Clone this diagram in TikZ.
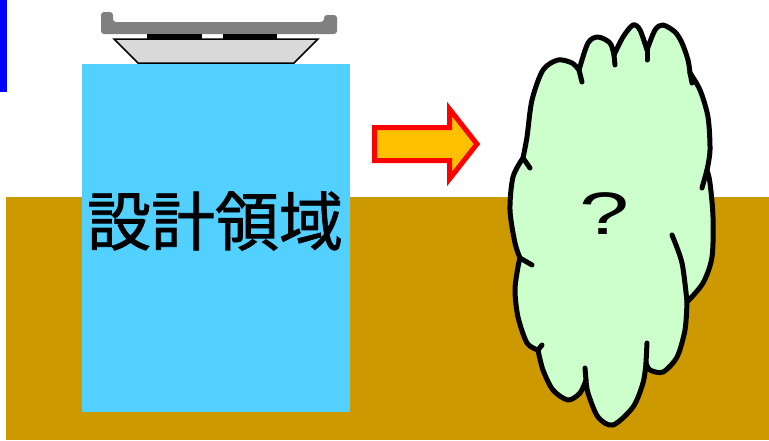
\documentclass[tikz,border=0pt]{standalone}
\usepackage{fontspec}
\setmainfont{Liberation Sans}
\newfontfamily\jpfont[FakeBold=1.2]{Noto Sans CJK JP}
\definecolor{domaincyan}{RGB}{82, 208, 255}
\definecolor{groundgold}{RGB}{204, 153, 0}
\definecolor{cloudgreen}{RGB}{204, 255, 204}
\definecolor{arroworange}{RGB}{255, 192, 0}
\definecolor{plategray}{RGB}{128, 128, 128}
\definecolor{padgray}{RGB}{217, 217, 217}
\usepackage{tikz}
\usetikzlibrary{arrows.meta,positioning,calc}

\begin{document}
\begin{tikzpicture}[x=1pt, y=-1pt,
    cloudline/.style={line width=5pt, line cap=round, line join=round}]
          \useasboundingbox (0,0) rectangle (769,440);
          \fill[white] (0,0) rectangle (769,440);

          % Ground and marker bar
          \fill[groundgold] (6,197) rectangle (769,440);
          \fill[blue] (0,0) rectangle (7,92);

          % Design domain
          \fill[domaincyan] (82,64) rectangle (350,412);
          \node (domain) at (215,221) {\jpfont\fontsize{64}{64}\selectfont 設計領域};

          % Loading plate on top
          \fill[plategray, rounded corners=3pt] (101,12) -- (113,12) -- (113,22) -- (324,22)
            -- (324,15) -- (337,15) -- (337,34) -- (101,34) -- cycle;
          \fill[black] (147,34) rectangle (202,39);
          \fill[black] (223,34) rectangle (277,39);
          \draw[fill=padgray, line width=1.5pt] (114,39) -- (318,39) -- (294,63) -- (138,63) -- cycle;

          % Block arrow
          \draw[fill=arroworange, draw=red, line width=5pt, miter limit=10]
            (374.5,127.5) -- (449.5,127.5) -- (449.5,109) -- (477,144) -- (449.5,179)
            -- (449.5,160.5) -- (374.5,160.5) -- cycle;

          % Cloud
          \draw[cloudline, fill=cloudgreen]
            plot[smooth] coordinates {(523,158) (527,137) (532,100) (543,70) (558,60) (572,63) (579,70)}
            -- plot[smooth] coordinates {(579,70) (588,43) (598,37) (610,43) (614,55)}
            -- plot[smooth] coordinates {(614,55) (623,37) (633,25) (640,30) (647,50)}
            -- plot[smooth] coordinates {(647,50) (655,30) (663,25) (675,32) (682,43) (688,60) (690,73)}
            -- plot[smooth] coordinates {(690,73) (700,90) (708,117) (710,150) (707,170)}
            -- plot[smooth] coordinates {(707,170) (710,183) (713,217) (712,257) (703,283) (687,302)}
            -- plot[smooth] coordinates {(687,302) (685,330) (677,357) (663,372) (650,370) (646,363)}
            -- plot[smooth] coordinates {(646,363) (643,383) (633,407) (613,425) (598,417) (588,393) (586,380)}
            -- plot[smooth] coordinates {(586,380) (580,393) (568,400) (553,390) (543,370) (538,350)}
            -- plot[smooth] coordinates {(538,350) (527,343) (518,317) (515,290) (518,267) (520,258)}
            -- plot[smooth] coordinates {(520,258) (515,243) (510,210) (513,177) (523,158)}
            -- cycle;
          % inner ends of the lobes
          \draw[cloudline] (579,70) -- (582,82);
          \draw[cloudline] (614,55) -- (615,65);
          \draw[cloudline] (647,50) -- (647,60);
          \draw[cloudline] (690,73) -- (692,83);
          \draw[cloudline] (707,170) -- (702,188);
          \draw[cloudline] plot[smooth] coordinates {(672,235) (682,263) (687,302)};
          \draw[cloudline] (646,363) -- (647,343);
          \draw[cloudline] (586,380) -- (585,368);
          \draw[cloudline] (538,350) -- (542,345);
          \draw[cloudline] (520,258) -- (532,265);
          \draw[cloudline] (523,158) -- (530,168);
          \node[xscale=1.5] (unknown) at (604.5,214) {\fontsize{60}{60}\selectfont ?};
        \end{tikzpicture}
\end{document}
